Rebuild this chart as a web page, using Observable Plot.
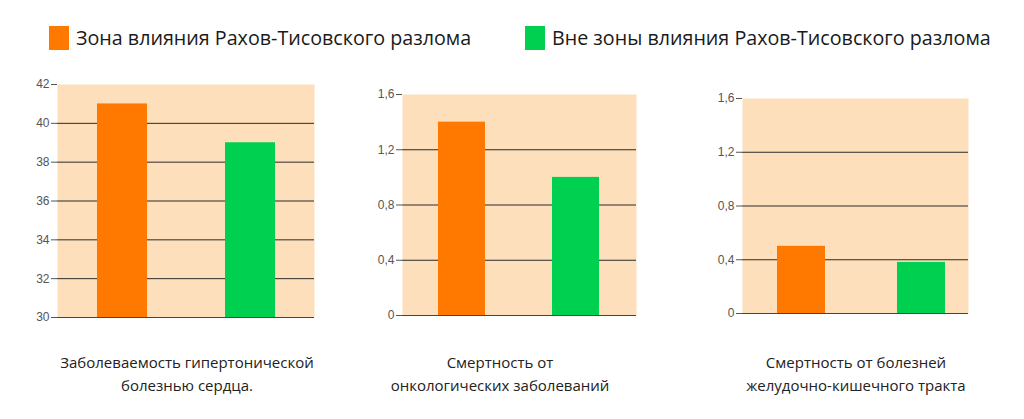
<!DOCTYPE html>
<html><head><meta charset="utf-8">
<script src="https://cdn.jsdelivr.net/npm/d3@7"></script>
<script src="https://cdn.jsdelivr.net/npm/@observablehq/plot@0.6"></script>
<style>
body{margin:0;background:#fff;width:1024px;height:419px;position:relative;overflow:hidden;font-family:"Open Sans",sans-serif;}
.leg{position:absolute;top:24px;font-size:19.7px;color:#1a1a1a;display:flex;align-items:center;white-space:nowrap;}
.sw{width:20px;height:24px;margin-right:7px;}
.panel{position:absolute;}
.panel text{font-size:12px !important;font-family:"Liberation Sans",Arial,sans-serif !important;}
.cap{position:absolute;font-size:15px;color:#222;text-align:center;line-height:23px;white-space:nowrap;transform:translateX(-50%);}
</style></head>
<body>
<div id="root"></div>
<script>
const groups = ["Зона влияния Рахов-Тисовского разлома", "Вне зоны влияния Рахов-Тисовского разлома"];
const colors = ["#ff7800", "#00d050"];
const captions = [
  ["Заболеваемость гипертонической", "болезнью сердца."],
  ["Смертность от", "онкологических заболеваний"],
  ["Смертность от болезней", "желудочно-кишечного тракта"]
];
const values1 = [41, 39];
const values2 = [1.4, 1.0];
const values3 = [0.5, 0.38];
const ticks1 = [30, 32, 34, 36, 38, 40, 42];
const ticks2 = [0, 0.4, 0.8, 1.2, 1.6];
const ticks3 = [0, 0.4, 0.8, 1.2, 1.6];

const root = document.getElementById("root");
// legend
const legPos = [49, 525];
groups.forEach((g, i) => {
  const d = document.createElement("div");
  d.className = "leg";
  d.style.left = legPos[i] + "px";
  d.innerHTML = `<span class="sw" style="background:${colors[i]}"></span><span>${g}</span>`;
  root.appendChild(d);
});

const fmt = v => String(v).replace(".", ",");

function panel(values, ticks, cfg) {
  const data = groups.map((g, i) => ({g, v: values[i], c: colors[i]}));
  const lo = ticks[0], hi = ticks[ticks.length - 1];
  const chart = Plot.plot({
    width: cfg.width, height: cfg.height,
    marginLeft: cfg.ml, marginTop: 10, marginRight: 16, marginBottom: 17,
    style: {fontFamily: "Arial, 'Liberation Sans', sans-serif", fontSize: "12px", color: "#555", background: "transparent"},
    x: {domain: groups, paddingInner: cfg.pi, paddingOuter: cfg.po, align: cfg.align ?? 0.5, axis: null},
    y: {domain: [lo, hi], ticks: ticks, tickFormat: fmt, tickSize: 6, tickPadding: 2, label: null},
    marks: [
      Plot.frame({fill: "#fde0bb", stroke: null}),
      Plot.ruleY(ticks.slice(1, -1), {stroke: "#2a2a2a", strokeWidth: 1}),
      Plot.barY(data, {x: "g", y1: lo, y2: "v", fill: "c"}),
      Plot.ruleY([lo], {stroke: "#444", strokeWidth: 1.2}),
      Plot.ruleX([0], {frameAnchor: "left", stroke: "#555", strokeWidth: 1.2}),
      Plot.axisY({ticks: ticks, tickFormat: fmt, tickSize: 6, tickPadding: 2, stroke: "#555", fill: "#555", fontSize: 12, label: null})
    ]
  });
  chart.classList.add("panel");
  chart.style.left = cfg.left + "px";
  chart.style.top = cfg.top + "px";
  root.appendChild(chart);
}

panel(values1, ticks1, {left: 0, top: 74, width: 330, height: 260, ml: 57, pi: 0.61, po: 0.305});
panel(values2, ticks2, {left: 350, top: 84, width: 302, height: 248, ml: 52, pi: 0.585, po: 0.31});
panel(values3, ticks3, {left: 690, top: 88, width: 294, height: 242, ml: 52, pi: 0.6, po: 0.24, align: 0.6});

const capX = [187, 500, 856];
captions.forEach((c, i) => {
  const d = document.createElement("div");
  d.className = "cap";
  d.style.left = capX[i] + "px";
  d.style.top = "351px";
  d.innerHTML = c.join("<br>");
  root.appendChild(d);
});
</script>
</body></html>
